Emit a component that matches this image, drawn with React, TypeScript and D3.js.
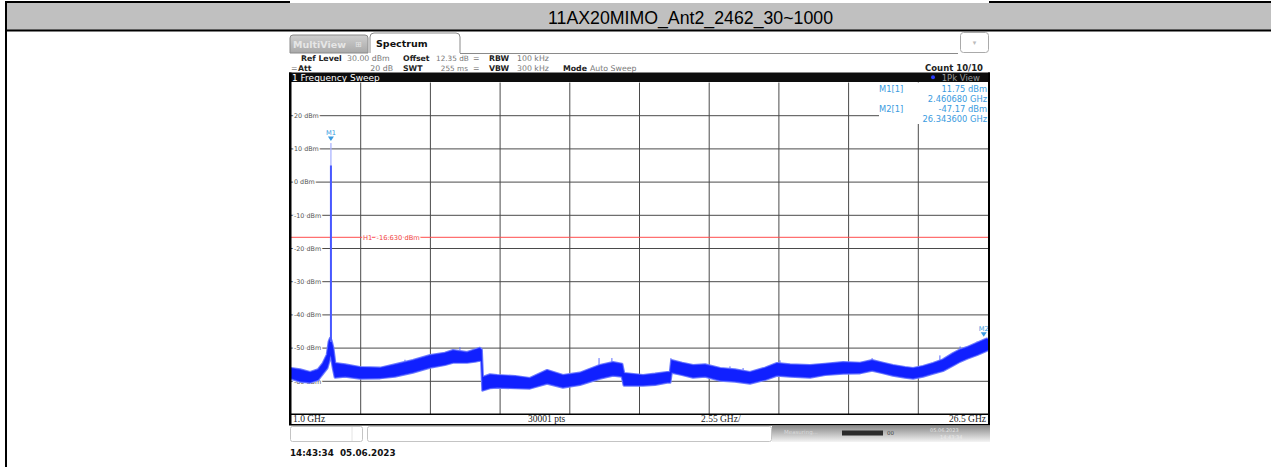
import React from "react";
import * as d3 from "d3";

// trace envelope (GHz, dBm)
const freqGHz = [1.0, 1.33, 1.7, 1.99, 2.17, 2.32, 2.39, 2.44, 2.48, 2.54, 2.61, 2.98, 3.52, 4.26, 4.8, 5.46, 6.09, 6.63, 6.93, 7.44, 7.73, 7.91, 7.97, 8.01, 8.28, 8.54, 9.2, 9.74, 10.37, 10.95, 11.57, 12.3, 12.78, 13.11, 13.18, 13.88, 14.32, 14.76, 14.87, 14.92, 15.31, 15.71, 16.15, 16.7, 17.24, 17.79, 18.34, 18.78, 19.26, 19.99, 20.54, 21.2, 21.82, 22.26, 22.66, 23.02, 23.46, 23.76, 24.12, 24.49, 24.85, 25.22, 25.48, 25.73, 26.1, 26.46, 26.5];
const traceHi = [-56.1, -56.5, -57.3, -56.5, -54.6, -52.0, -48.0, -47.0, -48.0, -50.0, -54.6, -55.0, -55.8, -56.0, -55.0, -53.7, -52.2, -51.5, -50.7, -51.3, -50.5, -50.0, -50.5, -58.8, -58.0, -58.2, -58.5, -59.1, -56.7, -58.2, -57.5, -55.2, -54.3, -54.8, -57.6, -58.2, -57.8, -57.3, -57.3, -53.7, -54.5, -55.2, -55.0, -56.1, -56.5, -57.3, -56.0, -54.6, -55.0, -55.2, -54.8, -54.3, -54.5, -53.7, -54.5, -55.2, -55.8, -56.1, -55.5, -54.6, -53.5, -51.6, -50.5, -49.8, -48.5, -47.2, -47.5];
const traceLo = [-59.1, -60.0, -60.3, -59.5, -57.6, -56.0, -54.0, -52.0, -53.0, -56.0, -58.8, -58.5, -59.1, -59.0, -58.5, -57.3, -55.8, -55.0, -54.3, -54.3, -54.0, -53.7, -54.0, -62.7, -62.0, -61.8, -62.0, -62.1, -60.6, -61.8, -61.0, -59.1, -58.2, -58.5, -61.2, -61.2, -61.0, -60.3, -60.3, -57.3, -58.0, -58.8, -58.5, -59.7, -60.0, -60.6, -59.5, -58.2, -58.5, -58.8, -58.0, -57.6, -57.5, -56.7, -57.5, -58.2, -58.8, -59.1, -58.5, -57.6, -56.8, -55.2, -54.0, -53.1, -52.0, -50.7, -50.5];

// isolated noise peaks sticking out of the band
const peakFreq = [5.17, 7.18, 12.27, 12.74, 14.9, 17.06, 17.54, 18.89, 22.26, 24.74, 25.48, 26.1];
const peakLevel = [-53.5, -49.7, -53.0, -53.0, -53.0, -55.5, -56.0, -53.7, -53.0, -52.2, -49.5, -48.0];

// carrier spike
const spikeFreq = [2.45, 2.4607, 2.471];
const spikeLevel = [-48, 11.75, -48];
const spikeSolidTop = 5;

const yTicks = [30, 20, 10, 0, -10, -20, -30, -40, -50, -60, -70];
const xStart = 1.0, xStop = 26.5, xDiv = 2.55;

const markers = [
  { name: "M1", freq: 2.46068, level: 11.75, label: "M1[1]", val: "11.75 dBm", f: "2.460680 GHz" },
  { name: "M2", freq: 26.3436, level: -47.17, label: "M2[1]", val: "-47.17 dBm", f: "26.343600 GHz" },
];
const h1Level = -16.63;

const UI = "DejaVu Sans";
const MK = "#3a9be0";
const pre = { whiteSpace: "pre" as const };

export default function App() {
  const x = d3.scaleLinear().domain([xStart, xStop]).range([291, 988]);
  const y = d3.scaleLinear().domain([-70, 30]).range([414.5, 82.5]);
  const xTicks = d3.range(0, 11).map((i) => xStart + i * xDiv);

  const area = d3
    .area<number>()
    .x((i) => x(freqGHz[i]))
    .y0((i) => y(traceLo[i]))
    .y1((i) => y(traceHi[i]));
  const idx = freqGHz.map((_, i) => i);

  const spikeLine = d3
    .line<number>()
    .x((i) => x(spikeFreq[i]))
    .y((i) => y(spikeLevel[i]));

  // band top at a given frequency, for the noise peaks
  const hiAt = (f: number) => {
    const j = Math.max(1, d3.bisectLeft(freqGHz, f));
    const t = (f - freqGHz[j - 1]) / (freqGHz[j] - freqGHz[j - 1]);
    return traceHi[j - 1] + t * (traceHi[j] - traceHi[j - 1]);
  };

  return (
    <svg width={1271} height={467} style={{ position: "absolute", left: 0, top: 0, background: "#fff" }}>
      <defs>
        <linearGradient id="status" x1="0" y1="0" x2="0" y2="1">
          <stop offset="0" stopColor="#8c8c8c" />
          <stop offset="1" stopColor="#f4f4f4" />
        </linearGradient>
        <linearGradient id="tabGray" x1="0" y1="0" x2="0" y2="1">
          <stop offset="0" stopColor="#cfcfcf" />
          <stop offset="1" stopColor="#a9a9a9" />
        </linearGradient>
      </defs>

      {/* table cell frame and title */}
      <rect x={6} y={3} width={1265} height={27} fill="#c0c0c0" />
      <rect x={5} y={1} width={285} height={2} fill="#000" />
      <rect x={989} y={1} width={282} height={2} fill="#000" />
      <rect x={5} y={29.5} width={1266} height={2} fill="#000" />
      <rect x={5} y={1} width={2} height={466} fill="#000" />
      <text x={548} y={23.5} fontFamily="Liberation Sans" fontSize={18} textLength={285} lengthAdjust="spacingAndGlyphs" fill="#000">
        11AX20MIMO_Ant2_2462_30~1000
      </text>

      {/* tabs */}
      <path d="M290,53 V38 Q290,35 293,35 H365 Q368,35 368,38 V53 Z" fill="url(#tabGray)" stroke="#8a8a8a" />
      <text x={293} y={47.5} fontFamily={UI} fontWeight="bold" fontSize={9.5} fill="#e6e6e6">MultiView</text>
      <text x={355} y={47} fontFamily={UI} fontSize={8} fill="#e6e6e6">⊞</text>
      <path d="M370,53 V37 Q370,33 374,33 H456 Q460,33 460,37 V53" fill="#fff" stroke="#8a8a8a" />
      <text x={376} y={46.5} fontFamily={UI} fontWeight="bold" fontSize={9.5} fill="#111">Spectrum</text>
      <line x1={460} x2={958} y1={53.5} y2={53.5} stroke="#8a8a8a" />
      <rect x={960.5} y={32.5} width={28} height={20} rx={3} fill="#fff" stroke="#aaa" />
      <text x={974.5} y={45} textAnchor="middle" fontFamily={UI} fontSize={7} fill="#bbb">▾</text>

      {/* settings lines */}
      <g fontFamily={UI} fontSize={7.8}>
        <text x={301} y={61} fontWeight="bold" fill="#222">Ref Level</text>
        <text x={347} y={61} fill="#777">30.00 dBm</text>
        <text x={403} y={61} fontWeight="bold" fill="#222">Offset</text>
        <text x={436} y={61} fontSize={7.3} fill="#777">12.35 dB</text>
        <text x={473} y={61} fill="#777">=</text>
        <text x={489} y={61} fontWeight="bold" fill="#222">RBW</text>
        <text x={517} y={61} fill="#777">100 kHz</text>
        <text x={291} y={70.5} fill="#777">=</text>
        <text x={298} y={70.5} fontWeight="bold" fill="#222">Att</text>
        <text x={393} y={70.5} textAnchor="end" fill="#777">20 dB</text>
        <text x={403} y={70.5} fontWeight="bold" fill="#222">SWT</text>
        <text x={468} y={70.5} textAnchor="end" fontSize={7.3} fill="#777">255 ms</text>
        <text x={473} y={70.5} fill="#777">=</text>
        <text x={489} y={70.5} fontWeight="bold" fill="#222">VBW</text>
        <text x={517} y={70.5} fill="#777">300 kHz</text>
        <text x={563} y={70.5} fontWeight="bold" fill="#222">Mode</text>
        <text x={590} y={70.5} fill="#777">Auto Sweep</text>
        <text x={983} y={71} textAnchor="end" fontWeight="bold" fontSize={8.5} fill="#222">Count 10/10</text>
      </g>

      {/* sweep header bar */}
      <rect x={289} y={72.5} width={701} height={9.5} fill="#0d0d0d" />
      <text x={292} y={80.5} fontFamily={UI} fontSize={9} fill="#fff">1 Frequency Sweep</text>
      <circle cx={933} cy={77.3} r={2} fill="#2a3cff" />
      <text x={980} y={80.5} textAnchor="end" fontFamily={UI} fontSize={8.5} fill="#9a9a9a">1Pk View</text>

      {/* grid */}
      <rect x={291} y={82.5} width={697} height={332} fill="#fff" />
      <g stroke="#4a4a4a" strokeWidth={1}>
        {xTicks.slice(1, 10).map((t) => (
          <line key={t} x1={x(t)} x2={x(t)} y1={82.5} y2={414.5} />
        ))}
        {yTicks.slice(1, 10).map((t) => (
          <line key={t} x1={291} x2={988} y1={y(t)} y2={y(t)} />
        ))}
      </g>
      <g fontFamily={UI} fontSize={6.4} fill="#555" stroke="#fff" strokeWidth={3} style={{ paintOrder: "stroke" }}>
        {yTicks.slice(1, 10).map((t) => (
          <text key={t} x={294} y={y(t) + 2.2}>{`${t} dBm`}</text>
        ))}
      </g>

      {/* H1 display line */}
      <line x1={291} x2={988} y1={y(h1Level)} y2={y(h1Level)} stroke="#ff4d4d" strokeWidth={1} />
      <text x={363} y={y(h1Level) + 2.3} fontFamily={UI} fontSize={6.7} fill="#f03c3c" stroke="#fff" strokeWidth={2.5} style={{ paintOrder: "stroke", ...pre }}>
        {`H1  ${h1Level.toFixed(3)} dBm`}
      </text>

      {/* trace */}
      <g stroke="#5b6cff" strokeWidth={1}>
        {peakFreq.map((f, i) => (
          <line key={f} x1={x(f)} x2={x(f)} y1={y(hiAt(f)) + 2} y2={y(peakLevel[i])} />
        ))}
      </g>
      <path d={area(idx) ?? undefined} fill="#6f7dff" stroke="#6f7dff" strokeWidth={2.8} strokeLinejoin="round" />
      <path d={area(idx) ?? undefined} fill="#1020ff" stroke="#1020ff" strokeWidth={0.6} strokeLinejoin="round" />
      <path d={spikeLine([0, 1, 2]) ?? undefined} fill="#a9b3ff" stroke="#a9b3ff" strokeWidth={0.8} />
      <line x1={x(spikeFreq[1])} x2={x(spikeFreq[1])} y1={y(-48)} y2={y(spikeSolidTop)} stroke="#4858ff" strokeWidth={2} />

      {/* markers */}
      {markers.map((m) => (
        <g key={m.name}>
          <path d={`M${x(m.freq) - 3},${y(m.level) - 6.5} h6 l-3,4.5 z`} fill={MK} />
          <text x={x(m.freq)} y={y(m.level) - 8} textAnchor="middle" fontFamily={UI} fontSize={6.7} fill={MK}>{m.name}</text>
        </g>
      ))}

      {/* marker table */}
      <rect x={879} y={83} width={109} height={41} fill="#fff" />
      <g fontFamily={UI} fontSize={8.3} fill={MK}>
        {markers.map((m, i) => (
          <g key={m.label}>
            <text x={879} y={91.5 + i * 20}>{m.label}</text>
            <text x={987} y={91.5 + i * 20} textAnchor="end">{m.val}</text>
            <text x={987} y={101.5 + i * 20} textAnchor="end">{m.f}</text>
          </g>
        ))}
      </g>

      {/* frame */}
      <rect x={289} y={72.5} width={2.5} height={352.5} fill="#000" />
      <rect x={988} y={72.5} width={2} height={352.5} fill="#000" />
      <rect x={289} y={413.5} width={701} height={1.5} fill="#000" />
      <rect x={289} y={424} width={701} height={1.5} fill="#000" />
      <g fontFamily="Liberation Serif" fontSize={9.5} fill="#222">
        <text x={293} y={422}>{`${xStart.toFixed(1)} GHz`}</text>
        <text x={528} y={422}>30001 pts</text>
        <text x={701} y={422}>{`${xDiv.toFixed(2)} GHz/`}</text>
        <text x={986} y={422} textAnchor="end">{`${xStop.toFixed(1)} GHz`}</text>
      </g>

      {/* status bar */}
      <rect x={290.5} y={426.5} width={72} height={15} rx={2} fill="#fff" stroke="#c4c4c4" />
      <line x1={352} x2={352} y1={427} y2={441} stroke="#e4e4e4" />
      <rect x={367.5} y={426.5} width={404} height={15} rx={2} fill="#fff" stroke="#c4c4c4" />
      <rect x={772} y={426} width={218} height={16} fill="url(#status)" />
      <text x={784} y={434} fontFamily={UI} fontSize={5.5} fill="#d8d8d8">Measuring...</text>
      <rect x={842} y={430.5} width={41} height={5} fill="#2b2b2b" />
      <text x={887} y={435} fontFamily={UI} fontSize={5.5} fill="#444">00</text>
      <text x={930} y={432} fontFamily={UI} fontSize={5} fill="#e2e2e2">05.06.2023</text>
      <text x={940} y={439} fontFamily={UI} fontSize={5} fill="#eaeaea">14:43:34</text>

      <text x={290} y={455.5} fontFamily={UI} fontWeight="bold" fontSize={8.8} fill="#111" style={pre}>
        14:43:34  05.06.2023
      </text>
    </svg>
  );
}
